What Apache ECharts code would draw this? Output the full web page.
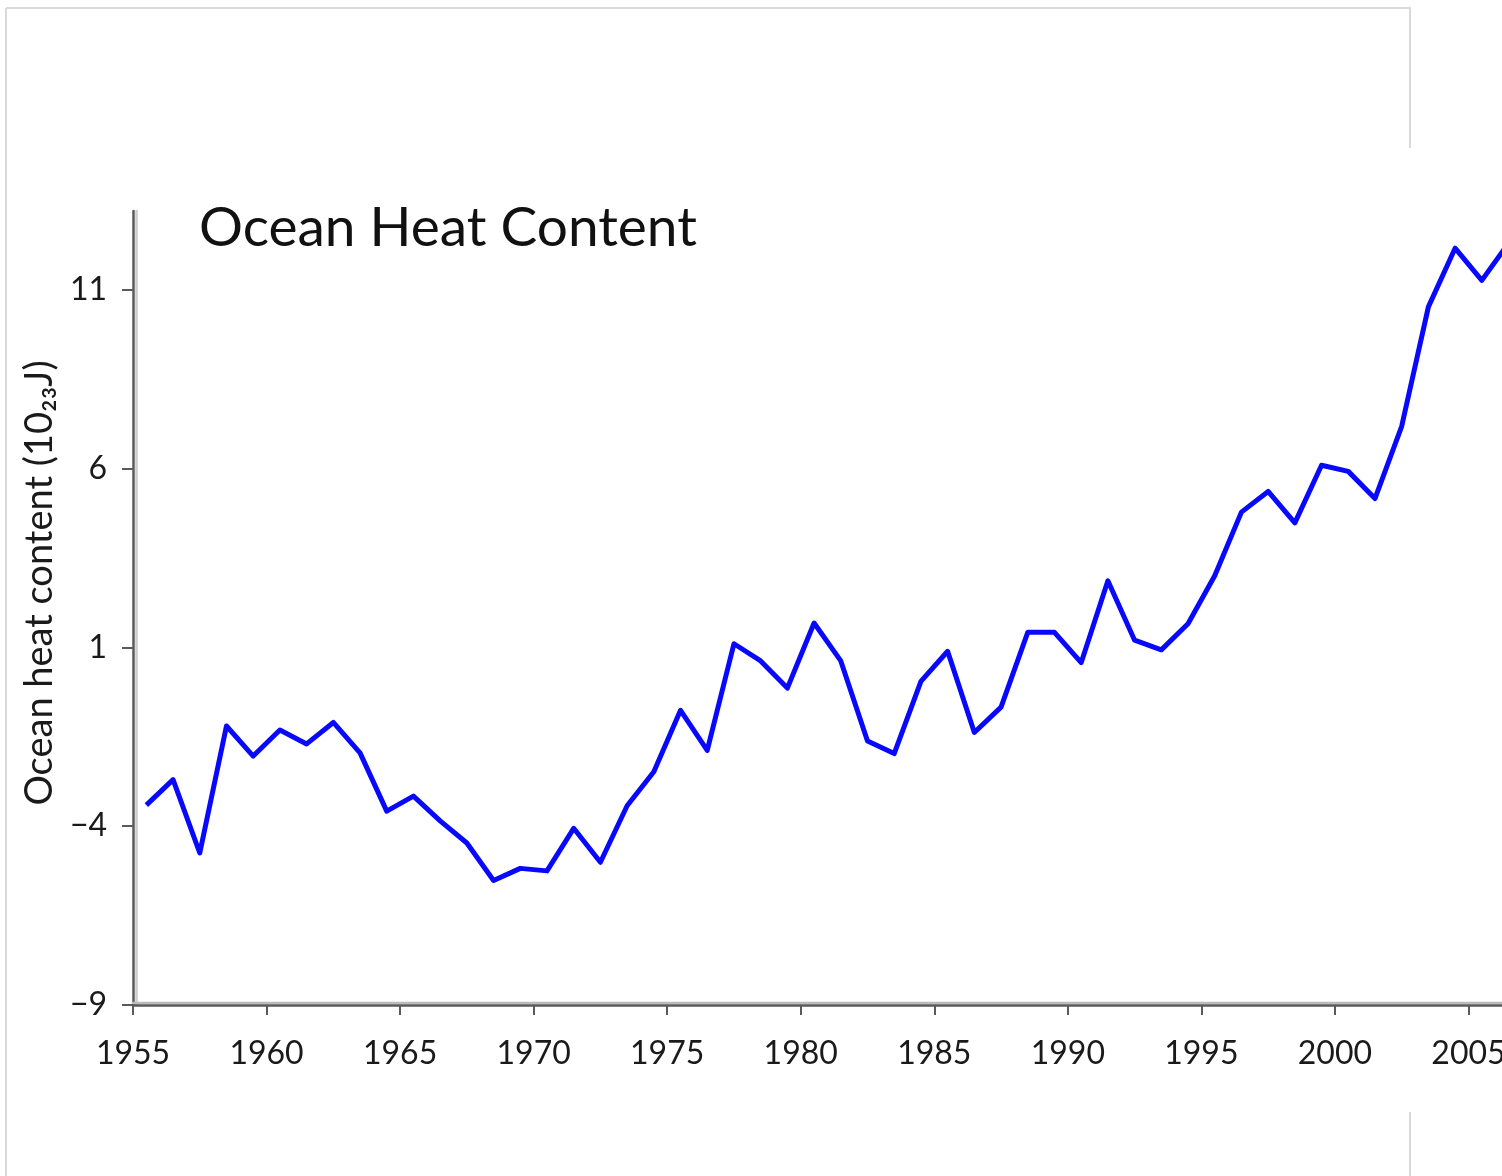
<!DOCTYPE html>
<html>
<head>
<meta charset="utf-8">
<script src="https://cdn.jsdelivr.net/npm/echarts@6/dist/echarts.min.js"></script>
<style>
html,body{margin:0;padding:0;background:#fff;}
#chart{width:1502px;height:1176px;}
</style>
</head>
<body>
<div id="chart"></div>
<script>
// ---- data ----
const years = [1955,1956,1957,1958,1959,1960,1961,1962,1963,1964,
               1965,1966,1967,1968,1969,1970,1971,1972,1973,1974,
               1975,1976,1977,1978,1979,1980,1981,1982,1983,1984,
               1985,1986,1987,1988,1989,1990,1991,1992,1993,1994,
               1995,1996,1997,1998,1999,2000,2001,2002,2003,2004,
               2005,2006];
const heatContent = [-3.41,-2.70,-4.75,-1.20,-2.04,-1.31,-1.70,-1.10,-1.95,-3.58,
                     -3.16,-3.85,-4.47,-5.52,-5.18,-5.25,-4.06,-5.01,-3.43,-2.48,
                     -0.76,-1.88,1.10,0.62,-0.14,1.68,0.62,-1.62,-1.97,0.05,
                     0.89,-1.38,-0.67,1.42,1.42,0.57,2.86,1.20,0.93,1.66,
                     3.00,4.78,5.36,4.48,6.09,5.92,5.16,7.18,10.52,12.16,
                     11.26,12.30];
const yTicks = [-9, -4, 1, 6, 11];
const titleText = 'Ocean Heat Content';
const yAxisName = 'Ocean heat content (10\u2082\u2083J)';

// annual means plotted at mid-year
const seriesData = years.map((y, i) => [y + 0.5, heatContent[i]]);

const chart = echarts.init(document.getElementById('chart'), null, {renderer: 'canvas'});
const FONT = 'Lato, "Open Sans", sans-serif';

chart.setOption({
  backgroundColor: '#ffffff',
  animation: false,
  title: {
    text: titleText,
    left: 199,
    top: 201,
    padding: 0,
    textStyle: {fontFamily: FONT, fontSize: 55, fontWeight: 'normal', color: '#111'}
  },
  grid: {left: 133, top: 211, width: 1469, height: 794, outerBoundsMode: 'none', containLabel: false},
  xAxis: {
    type: 'value',
    min: 1955, max: 2010, interval: 5,
    splitLine: {show: false},
    axisLine: {show: true, onZero: false, lineStyle: {color: '#5a5a5a', width: 2.5,
      shadowColor: '#bbbbbb', shadowOffsetY: -2.5, shadowBlur: 0}},
    axisTick: {show: true, length: 10, lineStyle: {color: '#5a5a5a', width: 2}},
    axisLabel: {margin: 33, fontFamily: FONT, fontSize: 32, color: '#1a1a1a',
      formatter: v => String(v)}
  },
  yAxis: {
    type: 'value',
    min: -9, max: 13.2,
    splitLine: {show: false},
    name: yAxisName,
    nameLocation: 'middle',
    nameGap: 70,
    nameTextStyle: {fontFamily: FONT, fontSize: 38, color: '#1a1a1a', padding: [0, 0, 0, 50]},
    axisLine: {show: true, onZero: false, lineStyle: {color: '#5a5a5a', width: 2.5,
      shadowColor: '#cccccc', shadowOffsetX: 3, shadowBlur: 0}},
    axisTick: {show: true, length: 11, customValues: yTicks, lineStyle: {color: '#5a5a5a', width: 2}},
    axisLabel: {margin: 26, fontFamily: FONT, fontSize: 32, color: '#1a1a1a', customValues: yTicks,
      formatter: v => String(v).replace('-', '\u2212')}
  },
  series: [{
    type: 'line',
    data: seriesData,
    showSymbol: false,
    symbol: 'none',
    lineStyle: {color: '#0808ff', width: 5, join: 'round'},
    clip: true
  }],
  graphic: [
    {type: 'line', shape: {x1: 6, y1: 8, x2: 1411, y2: 8}, style: {stroke: '#d9d9d9', lineWidth: 2}, silent: true},
    {type: 'line', shape: {x1: 6, y1: 8, x2: 6, y2: 1176}, style: {stroke: '#d9d9d9', lineWidth: 2}, silent: true},
    {type: 'line', shape: {x1: 1410, y1: 8, x2: 1410, y2: 148}, style: {stroke: '#d9d9d9', lineWidth: 2}, silent: true},
    {type: 'line', shape: {x1: 1410, y1: 1112, x2: 1410, y2: 1176}, style: {stroke: '#d9d9d9', lineWidth: 2}, silent: true}
  ]
});
</script>
</body>
</html>
